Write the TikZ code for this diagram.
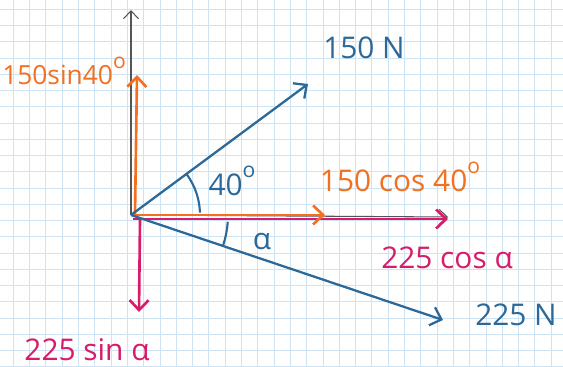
\documentclass[tikz,border=0pt]{standalone}
\usepackage{fontspec}
\setmainfont{Open Sans}
\usepackage{tikz}
\usetikzlibrary{arrows.meta,positioning,calc}

\definecolor{gridblue}{HTML}{CFE4F2}
\definecolor{penblue}{HTML}{2C6898}
\definecolor{penorange}{HTML}{F37021}
\definecolor{penpink}{HTML}{D81B6A}
\definecolor{pengray}{HTML}{555555}
\newcommand{\degsign}{\raisebox{.6em}{\fontsize{12}{12}\selectfont o}}

\begin{document}
\begin{tikzpicture}[
  x=0.02cm, y=0.02cm,
  gridline/.style={gridblue, line width=0.5pt},
  axisline/.style={-{Straight Barb[length=1.6mm,width=3mm]}, pengray, line width=0.6pt},
  vecblue/.style={-{Straight Barb[length=2mm,width=3.8mm]}, penblue, line width=1.3pt},
  vecorange/.style={-{Straight Barb[length=2mm,width=3.8mm]}, penorange, line width=1.5pt},
  vecpink/.style={-{Straight Barb[length=2mm,width=3.8mm]}, penpink, line width=1.5pt},
  anglearc/.style={penblue, line width=1.2pt},
  font=\fontsize{17}{20}\selectfont
]
\useasboundingbox (0,0) rectangle (563,367);
\fill[white] (0,0) rectangle (563,367);

% Squared paper
\foreach \i in {0,...,34}
  \draw[gridline] ({13.3+16.3*\i},0) -- ({13.3+16.3*\i},367);
\foreach \i in {0,...,22}
  \draw[gridline] (0,{357.7-16.25*\i}) -- (563,{357.7-16.25*\i});

% Points
\coordinate (O)    at (131,152);
\coordinate (Oup)  at (135,152);
\coordinate (Odn)  at (140,148);
\coordinate (Ort)  at (133,148);
\coordinate (yax)  at (131,357);
\coordinate (xax)  at (448,150);
\coordinate (F1)   at (308,283);
\coordinate (F2)   at (443,47);
\coordinate (F1x)  at (325,152);
\coordinate (F1y)  at (137,292);
\coordinate (F2x)  at (448,148);
\coordinate (F2y)  at (139,55);

% Axes
\draw[axisline] (O) -- (yax);
\draw[axisline] (O) -- (xax);

% Components
\draw[vecpink]   (Ort) -- (F2x);
\draw[vecpink]   (Odn) -- (F2y);
\draw[vecorange] (O)   -- (F1x);
\draw[vecorange] (Oup) -- (F1y);

% Forces
\draw[vecblue] (O) -- (F1);
\draw[vecblue] (O) -- (F2);

% Angles
\draw[anglearc] ($(O)+(2:69)$)   arc[start angle=2,   end angle=36,  radius=1.38cm];
\draw[anglearc] ($(O)+(-18:97)$) arc[start angle=-18, end angle=-4,  radius=1.94cm];

% Labels
\node[penblue]   (l150)  at (364,319) {150 N};
\node[penblue]   (l225)  at (516,52)  {225 N};
\node[penblue]   (a40)   at (232,186) {40\degsign};
\node[penblue]   (alpha) at (262,125) {α};
\node[penorange, font=\fontsize{15}{18}\selectfont] (lsin1) at (64,296) {150sin40\degsign};
\node[penorange] (lcos1) at (400,190) {150 cos 40\degsign};
\node[penpink]   (lcos2) at (447,109) {225 cos α};
\node[penpink]   (lsin2) at (87,17)   {225 sin α};

\end{tikzpicture}
\end{document}
